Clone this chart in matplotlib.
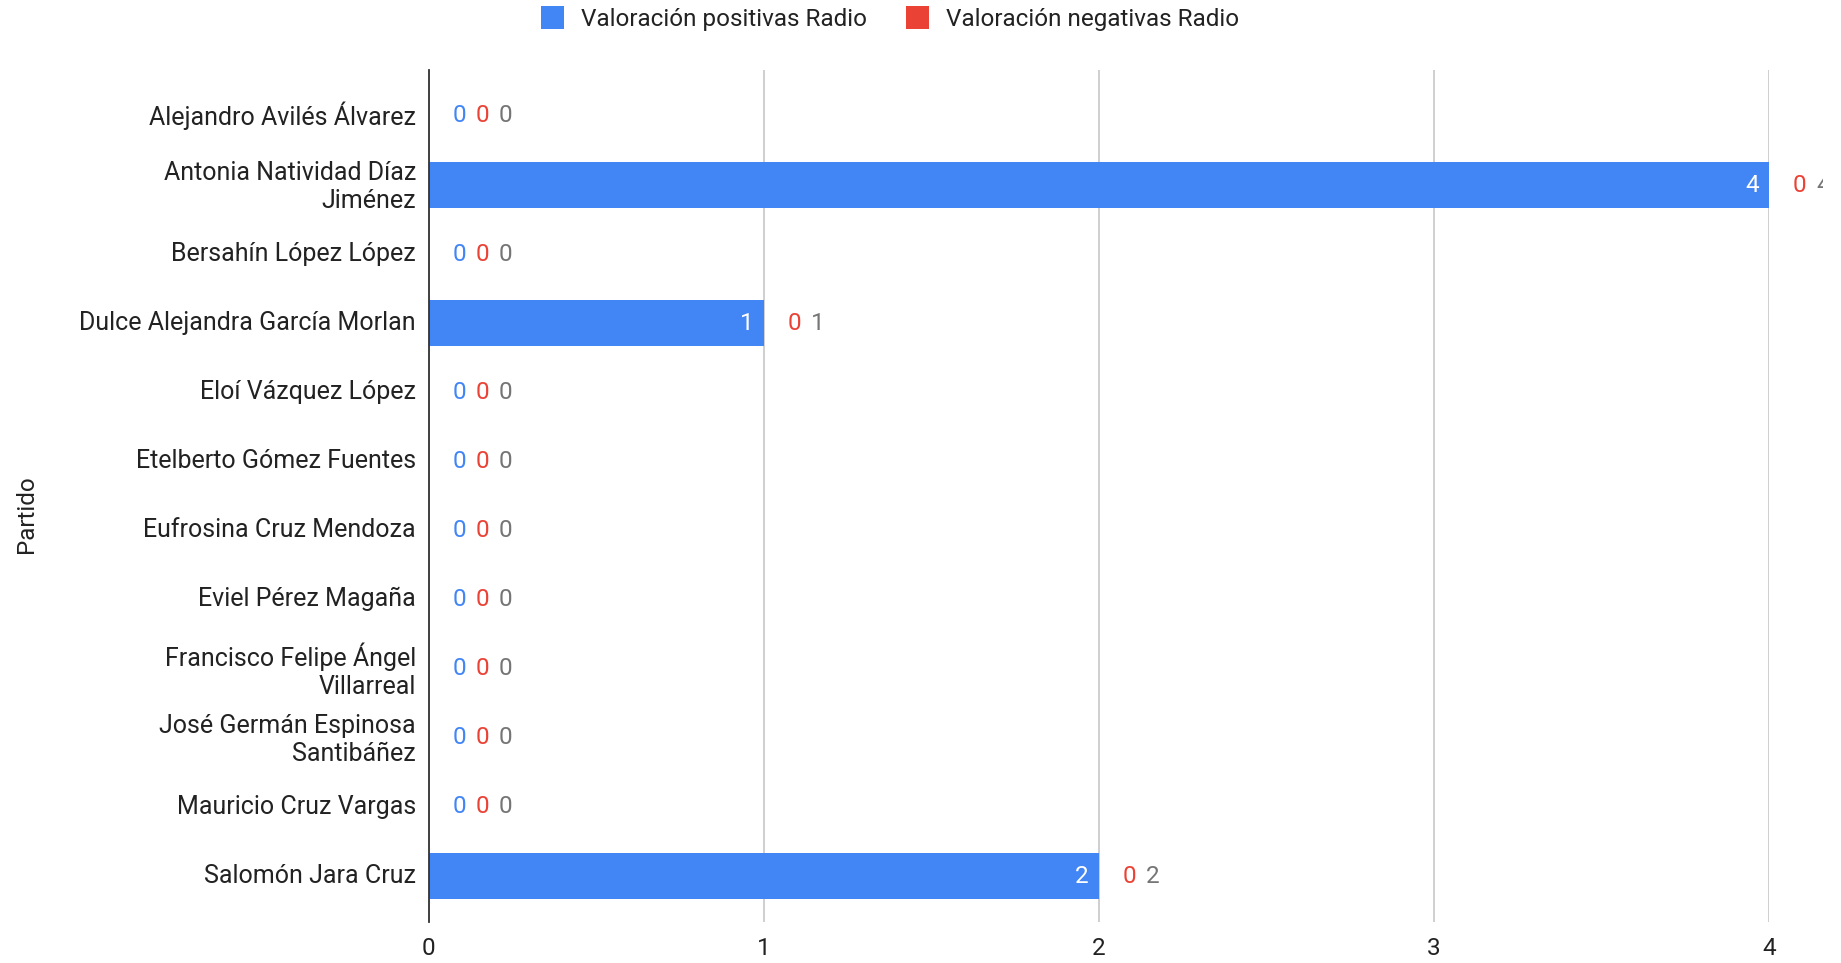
import matplotlib
matplotlib.use("Agg")
import matplotlib.pyplot as plt
from matplotlib.transforms import Bbox, ScaledTranslation

plt.rcParams['font.family'] = ['Roboto', 'DejaVu Sans']

categories = [
    "Alejandro Avilés Álvarez",
    "Antonia Natividad Díaz\nJiménez",
    "Bersahín López López",
    "Dulce Alejandra García Morlan",
    "Eloí Vázquez López",
    "Etelberto Gómez Fuentes",
    "Eufrosina Cruz Mendoza",
    "Eviel Pérez Magaña",
    "Francisco Felipe Ángel\nVillarreal",
    "José Germán Espinosa\nSantibáñez",
    "Mauricio Cruz Vargas",
    "Salomón Jara Cruz",
]
positivas = [0, 4, 0, 1, 0, 0, 0, 0, 0, 0, 0, 2]
negativas = [0, 0, 0, 0, 0, 0, 0, 0, 0, 0, 0, 0]
totales = [p + n for p, n in zip(positivas, negativas)]
xticks = [0, 1, 2, 3, 4]

BLUE = "#4285F4"
RED = "#EA4335"
GRAY = "#757575"

fig = plt.figure(figsize=(18.41, 9.63), dpi=100)
ax = fig.add_axes([0.2328, 0.0429, 0.9609 - 0.2328, 0.927 - 0.0429])

y = list(range(len(categories)))
ax.barh(y, positivas, height=0.66, color=BLUE, label="Valoración positivas Radio", zorder=3)
ax.barh(y, negativas, left=positivas, height=0.66, color=RED, label="Valoración negativas Radio", zorder=3)

fs = 17.5
clip = Bbox.from_extents(0, 0, 1823, 963)
for i in y:
    p, n, t = positivas[i], negativas[i], totales[i]
    end = p + n
    if p > 0:
        items = [(str(p), p, -12, "white"), (str(n), end, 22, RED), (str(t), end, 39, GRAY)]
    else:
        items = [(str(p), end, 22, BLUE), (str(n), end, 39, RED), (str(t), end, 55, GRAY)]
    for txt, xv, off, col in items:
        a = ax.annotate(txt, (xv, i), xytext=(off, 0), textcoords="offset points",
                        ha="center", va="center", color=col, fontsize=fs,
                        annotation_clip=False, zorder=5)
        a.set_clip_box(clip)
        a.set_clip_on(True)

ax.set_xlim(0, 4)
ax.set_ylim(len(categories) - 1 + 0.66, -0.66)
ax.set_xticks(xticks)
ax.set_xticklabels([str(v) for v in xticks])
ax.set_yticks(y)
ax.set_yticklabels(categories, linespacing=1.25)
ax.tick_params(axis="both", length=0, labelsize=fs, colors="#222222")
ax.tick_params(axis="y", pad=9, labelsize=18)
ax.tick_params(axis="x", pad=11)
shift = ScaledTranslation(0, 2 / 72, fig.dpi_scale_trans)
for lab in ax.get_yticklabels():
    lab.set_transform(lab.get_transform() + shift)
ax.grid(axis="x", color="#cccccc", linewidth=1.3, zorder=0)
for s in ["top", "right", "bottom"]:
    ax.spines[s].set_visible(False)
ax.spines["left"].set_color("#333333")
ax.spines["left"].set_linewidth(1.3)
ax.spines["left"].set_zorder(4)

fig.text(0.0145, 0.466, "Partido", rotation=90, ha="center", va="center", fontsize=fs, color="#222222")

leg = fig.legend(loc="center", bbox_to_anchor=(0.4834, 0.981), ncol=2, frameon=False,
                 fontsize=fs, handlelength=0.95, handleheight=1.05, columnspacing=1.6,
                 handletextpad=0.7)
for t in leg.get_texts():
    t.set_color("#222222")

fig.savefig("out.png", dpi=100)
